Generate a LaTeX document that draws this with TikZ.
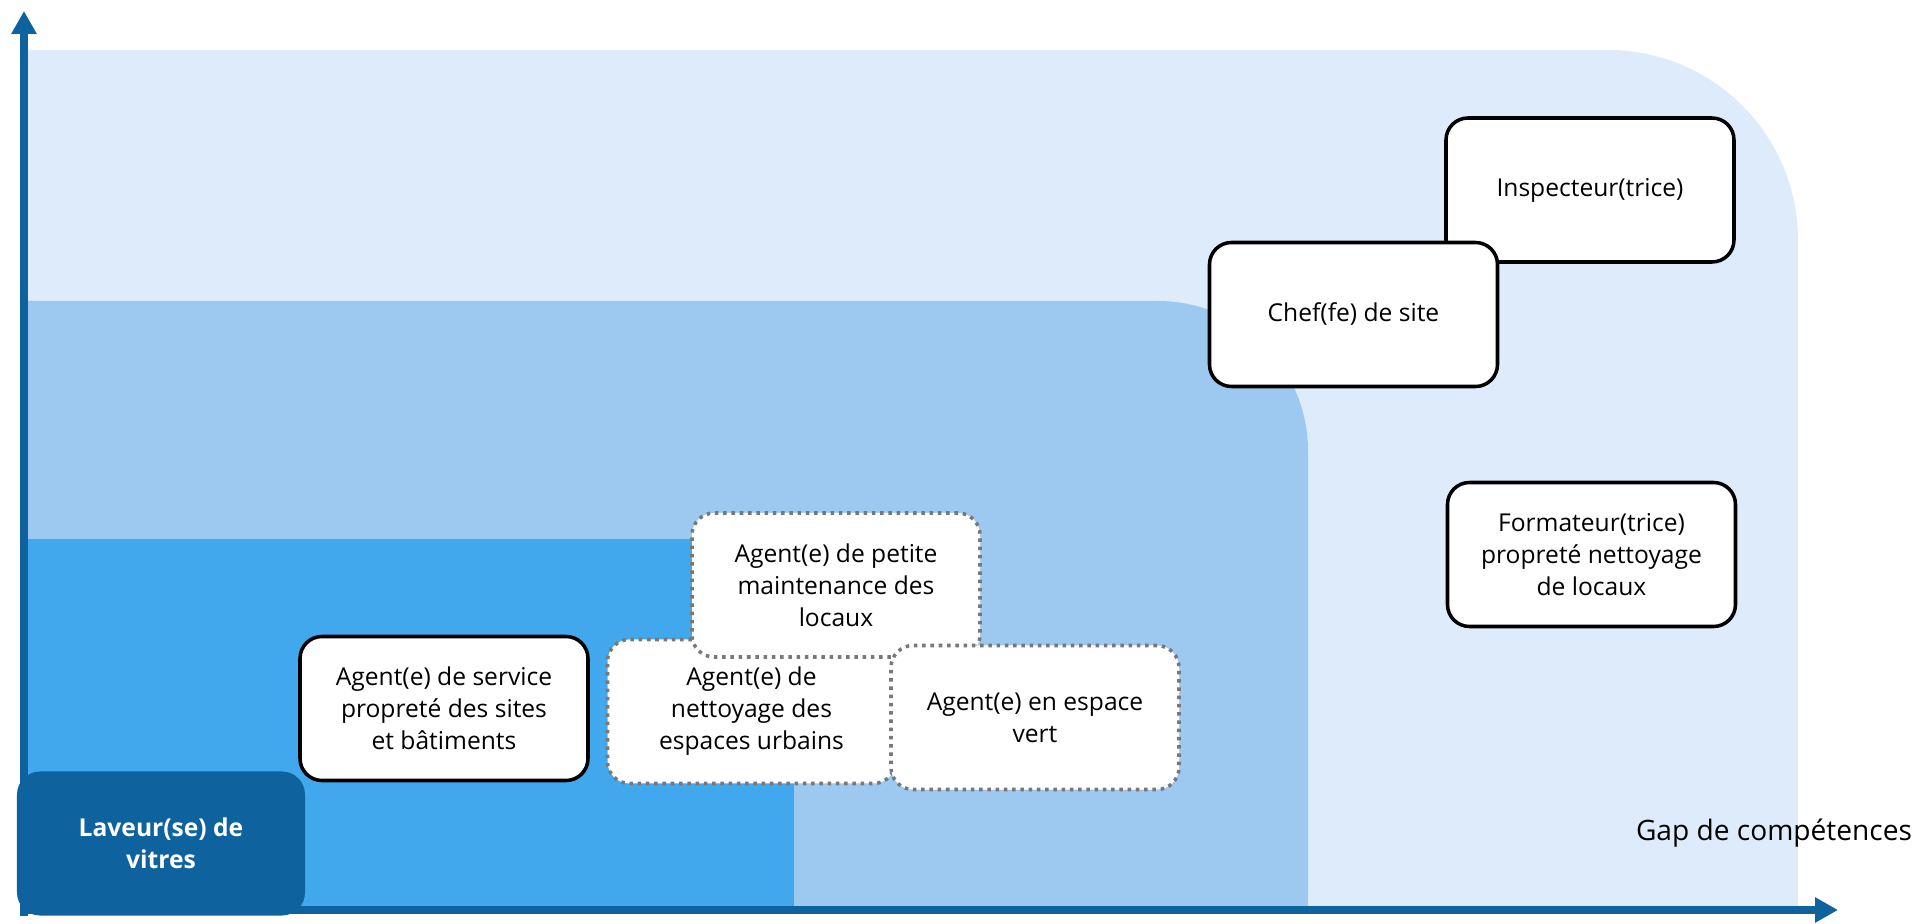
\documentclass[tikz,border=0pt]{standalone}
\usepackage{fontspec}
\setmainfont{Open Sans}
\usepackage{tikz}
\usetikzlibrary{arrows.meta}
\definecolor{zoneLight}{RGB}{221,235,250}
\definecolor{zoneMid}{RGB}{157,201,240}
\definecolor{zoneDark}{RGB}{66,168,238}
\definecolor{axisBlue}{RGB}{14,98,158}
\definecolor{dotGray}{RGB}{120,120,120}
\tikzset{
	every text node part/.style = {align=center},
	jobBox/.style = {
		draw = black, line width = 1pt, fill = white,
		rounded corners = 0.22cm, minimum width = 2.88cm,
		minimum height = 1.44cm, inner sep = 0pt
	},
	jobBoxDotted/.style = {
		jobBox, draw = dotGray, line width = 1pt,
		dash pattern = on 1pt off 1.35pt
	},
	startBox/.style = {
		fill = axisBlue, text = white, font = \fontsize{7}{9.1}\selectfont\bfseries,
		rounded corners = 0.23cm, minimum width = 2.88cm,
		minimum height = 1.44cm, inner sep = 0pt
	}
}

\begin{document}
\begin{tikzpicture}
	\useasboundingbox (0,0) rectangle (19.21,9.23);
	\tikzstyle{every node}=[font=\fontsize{7}{9.1}\selectfont]
	
	\pgfmathsetmacro{\xLeft}{0.28}
	\pgfmathsetmacro{\yFloor}{0.13}
	\pgfmathsetmacro{\yLight}{8.73}
	\pgfmathsetmacro{\yMid}{6.22}
	\pgfmathsetmacro{\yDark}{3.84}
	
	% zones
	\fill [zoneLight] (\xLeft,\yFloor) -- (\xLeft,\yLight) -- (16.08,\yLight) arc[start angle=90, end angle=0, radius=1.9] -- (17.98,\yFloor) -- cycle;
	\fill [zoneMid] (\xLeft,\yFloor) -- (\xLeft,\yMid) -- (11.58,\yMid) arc[start angle=90, end angle=0, radius=1.5] -- (13.08,\yFloor) -- cycle;
	\fill [zoneDark] (\xLeft,\yFloor) rectangle (7.94,\yDark);
	
	% axes
	\coordinate (origin) at (0.20,0.13);
	\coordinate (yEnd) at (0.24,9.12);
	\coordinate (xEnd) at (18.38,0.13);
	\draw [axisBlue, line width=2.3pt, -{Triangle[width=0.24cm, length=0.23cm]}] (0.24,0.07) -- (yEnd);
	\draw [axisBlue, line width=2.3pt, -{Triangle[width=0.24cm, length=0.23cm]}] (origin) -- (xEnd);
	
	% jobs
	\node [jobBox] (service) at (4.44,2.145) {Agent(e) de service\\propreté des sites\\et bâtiments};
	\node [jobBoxDotted] (urbain) at (7.515,2.115) {Agent(e) de\\nettoyage des\\espaces urbains};
	\node [jobBoxDotted] (maintenance) at (8.36,3.38) {Agent(e) de petite\\maintenance des\\locaux};
	\node [jobBoxDotted] (vert) at (10.35,2.055) {Agent(e) en espace\\vert};
	\node [jobBox] (inspecteur) at (15.90,7.33) {Inspecteur(trice)};
	\node [jobBox] (chef) at (13.535,6.085) {Chef(fe) de site};
	\node [jobBox] (formateur) at (15.915,3.685) {Formateur(trice)\\propreté nettoyage\\de locaux};
	\node [startBox] (laveur) at (1.61,0.795) {Laveur(se) de\\vitres};
	
	\node [font=\fontsize{8}{10}\selectfont] (gap) at (17.74,0.90) {Gap de compétences};
	
\end{tikzpicture}
\end{document}
